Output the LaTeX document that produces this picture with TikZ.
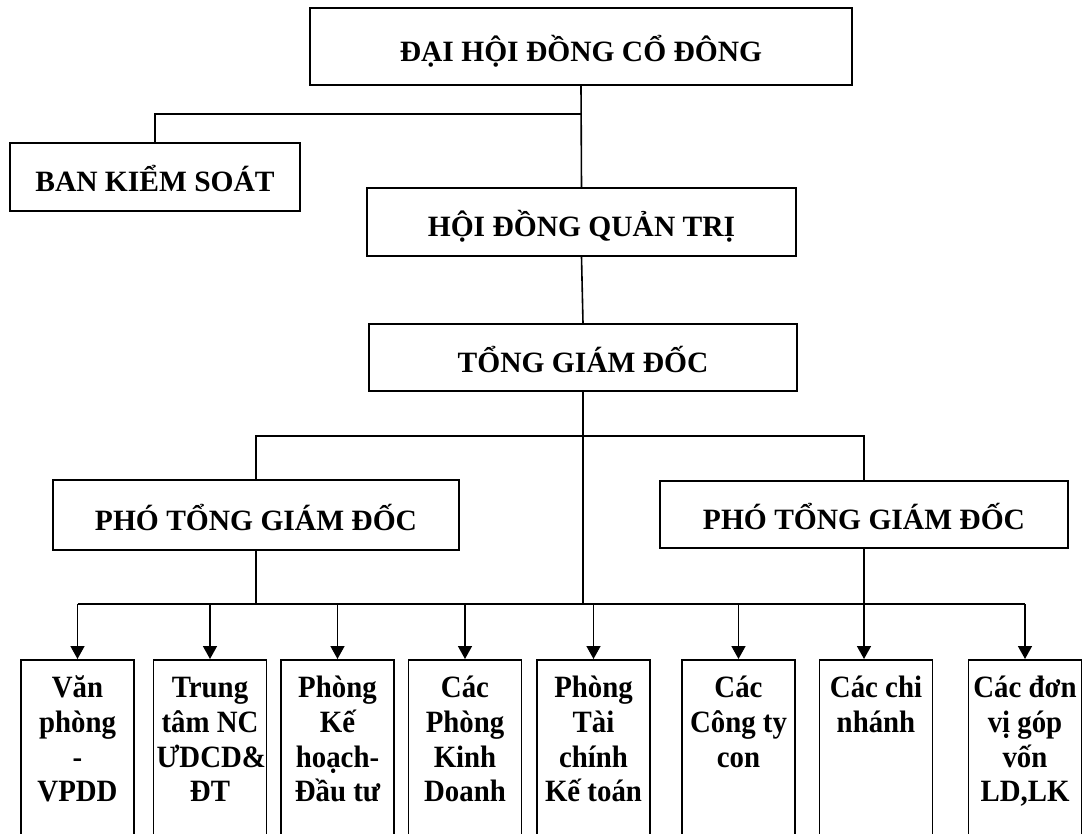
\documentclass[tikz,border=0pt]{standalone}
\usepackage{fontspec}
\setmainfont{Liberation Serif}
\newfontfamily\unitfont[FakeStretch=0.93]{Liberation Serif}
\usetikzlibrary{arrows.meta}
\newcommand{\unitlines}[1]{\parbox[t][200pt][t]{107pt}{\centering\rule{0pt}{24pt}#1}}

\begin{document}
\begin{tikzpicture}
        [x=1pt, y=-1pt, line width=1.6pt,
    post/.style={draw, font=\fontsize{29.5}{34}\selectfont\bfseries, text height=30pt, text depth=0pt, inner sep=0pt},
    unit/.style={draw, anchor=north, font=\unitfont\fontsize{31}{34.7}\selectfont\bfseries, inner xsep=3pt, inner ysep=14pt},
    arr/.style={-{Triangle[length=13pt,width=14pt]}}]
    \clip (0,0) rectangle (1082,834);
    \fill[white] (0,0) rectangle (1082,834);

    \node[post, minimum width=542pt, minimum height=77pt] (dh) at (581,46.5) {ĐẠI HỘI ĐỒNG CỔ ĐÔNG};
    \node[post, minimum width=290pt, minimum height=68pt] (bks) at (155,177) {BAN KIỂM SOÁT};
    \node[post, minimum width=429pt, minimum height=68pt] (hdqt) at (581.5,222) {HỘI ĐỒNG QUẢN TRỊ};
    \node[post, minimum width=428pt, minimum height=67pt] (tgd) at (583,357.5) {TỔNG GIÁM ĐỐC};
    \node[post, minimum width=406pt, minimum height=70pt] (pl) at (256,515) {PHÓ TỔNG GIÁM ĐỐC};
    \node[post, minimum width=408pt, minimum height=67pt] (pr) at (864,514.5) {PHÓ TỔNG GIÁM ĐỐC};

    \node[unit] (c1) at (77.5,659) {\unitlines{Văn\\phòng\\-\\VPDD}};
    \node[unit] (c2) at (210,659) {\unitlines{Trung\\tâm NC\\ƯDCD\&\\ĐT}};
    \node[unit] (c3) at (337.5,659) {\unitlines{Phòng\\Kế\\hoạch-\\Đầu tư}};
    \node[unit] (c4) at (465,659) {\unitlines{Các\\Phòng\\Kinh\\Doanh}};
    \node[unit] (c5) at (593.5,659) {\unitlines{Phòng\\Tài\\chính\\Kế toán}};
    \node[unit] (c6) at (738.5,659) {\unitlines{Các\\Công ty\\con}};
    \node[unit] (c7) at (876,659) {\unitlines{Các chi\\nhánh}};
    \node[unit] (c8) at (1025,659) {\unitlines{Các đơn\\vị góp\\vốn\\LD,LK}};

    \coordinate (split) at (dh.south |- 0,114);
    \coordinate (fork) at (tgd.south |- 0,436);
    \coordinate (bus) at (0,604);

    \draw (dh.south) -- (hdqt.north);
    \draw (split) -| (bks.north);
    \draw (hdqt.south) -- (tgd.north);
    \draw (tgd.south) -- (tgd.south |- bus);
    \draw (pl.north) |- (fork) -| (pr.north);
    \draw (pl.south) -- (pl.south |- bus);
    \draw (c1.north |- bus) -- (c8.north |- bus);
    \foreach \n in {1,...,6,8}
        \draw[arr] (c\n.north |- bus) -- (c\n.north);
    \draw[arr] (pr.south) -- (pr.south |- c7.north);
    
    \end{tikzpicture}
\end{document}
